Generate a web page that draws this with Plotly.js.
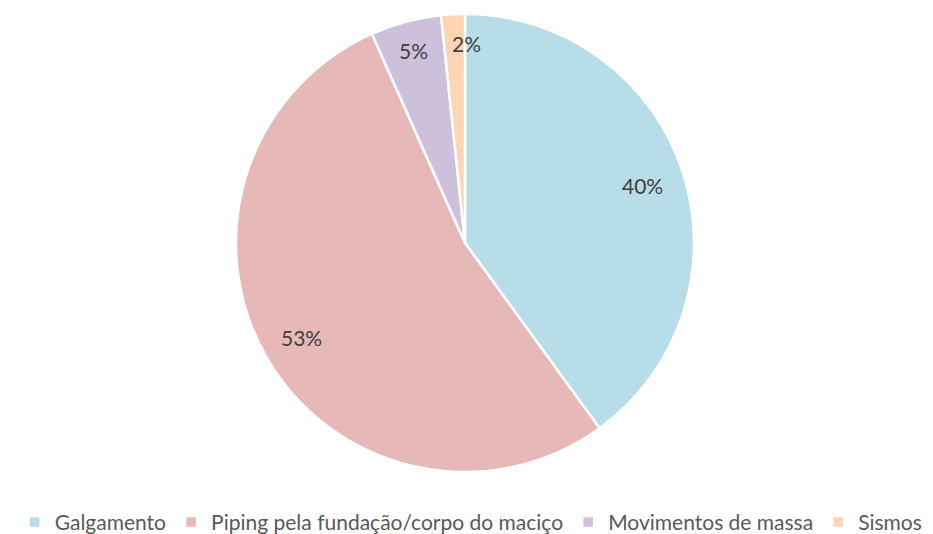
<!DOCTYPE html>
<html><head><meta charset="utf-8">
<script src="https://cdn.plot.ly/plotly-3.0.1.min.js"></script>
<style>html,body{margin:0;padding:0;background:#fff}</style>
</head><body>
<div id="chart" style="width:933px;height:534px"></div>
<script>
const categories = ["Galgamento", "Piping pela fundação/corpo do maciço", "Movimentos de massa", "Sismos"];
const values = [24, 32, 3, 1];
const colors = ["#b7dde8", "#e6b8b7", "#ccc0da", "#fcd5b4"];

// label placement style (radial fraction of radius, angular nudge in degrees)
const labelRadius = [0.82, 0.83, 0.88, 0.88];
const labelNudge = [0, 0, 0, 3.5];

const W = 933, H = 534;
const M = {l: 0, r: 3, t: 14, b: 62};
const pw = W - M.l - M.r, ph = H - M.t - M.b;
const R = Math.min(pw, ph) / 2 - 2;

const total = values.reduce((a, b) => a + b, 0);
const annotations = [];
let cum = 0;
values.forEach((v, i) => {
  const mid = (cum + v / 2) / total * 360 + labelNudge[i];
  cum += v;
  const rad = mid * Math.PI / 180;
  const r = labelRadius[i] * R;
  const dx = r * Math.sin(rad), dy = r * Math.cos(rad);
  annotations.push({
    xref: "paper", yref: "paper",
    x: 0.5 + dx / pw, y: 0.5 + dy / ph,
    text: Math.round(v / total * 100) + "%",
    showarrow: false, xanchor: "center", yanchor: "middle",
    font: {family: "Lato, 'Open Sans', sans-serif", size: 21, color: "#404040"}
  });
});

const trace = {
  type: "pie",
  labels: categories,
  values: values,
  sort: false,
  direction: "clockwise",
  rotation: 0,
  marker: {colors: colors, line: {color: "#ffffff", width: 2.5}},
  textinfo: "none",
  hoverinfo: "label+percent"
};

const layout = {
  width: W, height: H,
  margin: M,
  paper_bgcolor: "#ffffff",
  showlegend: true,
  annotations: annotations,
  legend: {
    orientation: "h", xref: "container", yref: "container",
    x: 0.505, xanchor: "center", y: 0.022, yanchor: "middle",
    font: {family: "Lato, 'Open Sans', sans-serif", size: 21, color: "#595959"},
    itemwidth: 30, traceorder: "normal"
  }
};

Plotly.newPlot("chart", [trace], layout, {displayModeBar: false, staticPlot: true});
</script>
</body></html>
